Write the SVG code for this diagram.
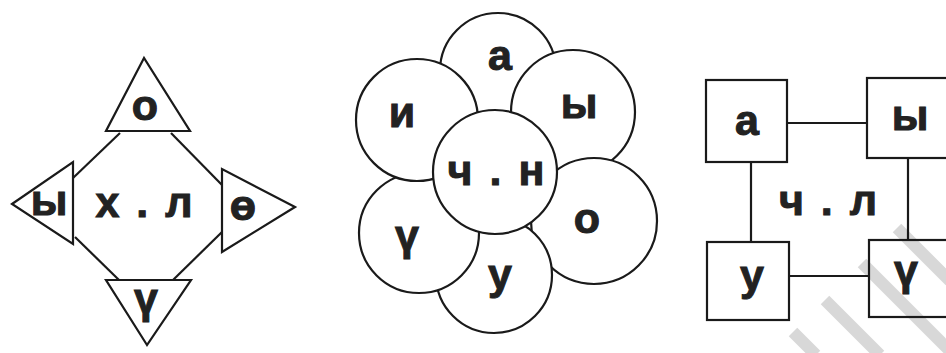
<svg xmlns="http://www.w3.org/2000/svg" width="946" height="353" viewBox="0 0 946 353">
<style>
.s{fill:#fff;stroke:#1a1a1a;stroke-width:2.2}
.c line{stroke:#1a1a1a;stroke-width:2.2}
.t{font-family:"Liberation Sans",Arial,sans-serif;font-weight:bold;font-size:43px;fill:#222;stroke:#222;stroke-width:1;text-anchor:middle;word-spacing:5px}
.wm line{stroke:#d8d8d8;stroke-width:12}
</style>
<rect width="946" height="353" fill="#fff"/>
<g class="wm">
<line x1="897" y1="228" x2="950" y2="281"/>
<line x1="862" y1="263" x2="952" y2="353"/>
<line x1="825" y1="300" x2="880" y2="355"/>
<line x1="793" y1="332" x2="816" y2="355"/>
</g>
<g id="connectors" class="c">
<line x1="120" y1="133" x2="73" y2="178"/>
<line x1="171" y1="133" x2="222" y2="185"/>
<line x1="75" y1="237" x2="119" y2="280"/>
<line x1="222" y1="232" x2="173" y2="280"/>
<line x1="787" y1="123" x2="867" y2="123"/>
<line x1="751" y1="162" x2="751" y2="242"/>
<line x1="908" y1="158" x2="908" y2="240"/>
<line x1="789" y1="276" x2="869" y2="276"/>
</g>
<g id="left-center"><text class="t" x="144" y="217" xml:space="preserve">х . л</text></g>
<g id="tri-top"><polygon class="s" points="144,58 106,131 190,131"/><text class="t" x="145" y="120">о</text></g>
<g id="tri-left"><polygon class="s" points="12,204 73,162 73,244"/><text class="t" x="49" y="215">ы</text></g>
<g id="tri-right"><polygon class="s" points="295,207 222,169 222,252"/><text class="t" x="243" y="220">ө</text></g>
<g id="tri-bottom"><polygon class="s" points="147,345 106,280 191,280"/><text class="t" x="146" y="313">ү</text></g>
<g id="p-a"><circle class="s" cx="498" cy="71" r="58"/><text class="t" x="500" y="70">а</text></g>
<g id="p-y"><circle class="s" cx="573" cy="112" r="62"/><text class="t" x="579" y="118">ы</text></g>
<g id="p-o"><circle class="s" cx="594" cy="221" r="63"/><text class="t" x="587" y="233">о</text></g>
<g id="p-u"><circle class="s" cx="494" cy="275" r="58"/><text class="t" x="500" y="289">у</text></g>
<g id="p-ue"><circle class="s" cx="419" cy="233" r="60"/><text class="t" x="407" y="250">ү</text></g>
<g id="p-i"><circle class="s" cx="417" cy="120" r="61"/><text class="t" x="402" y="127">и</text></g>
<g id="p-center"><circle class="s" cx="495" cy="172" r="62"/><text class="t" x="496" y="185" xml:space="preserve">ч . н</text></g>
<g id="right-center"><text class="t" x="828" y="215" xml:space="preserve">ч . л</text></g>
<g id="b-a"><rect class="s" x="706" y="80" width="81" height="82" fill-opacity="0"/><text class="t" x="747" y="135">а</text></g>
<g id="b-y"><rect class="s" x="867" y="78" width="90" height="80" fill-opacity="0"/><text class="t" x="910" y="130">ы</text></g>
<g id="b-u"><rect class="s" x="707" y="242" width="82" height="78" fill-opacity="0"/><text class="t" x="752" y="290">у</text></g>
<g id="b-ue"><rect class="s" x="869" y="240" width="90" height="77" fill-opacity="0"/><text class="t" x="906" y="285">ү</text></g>
</svg>
